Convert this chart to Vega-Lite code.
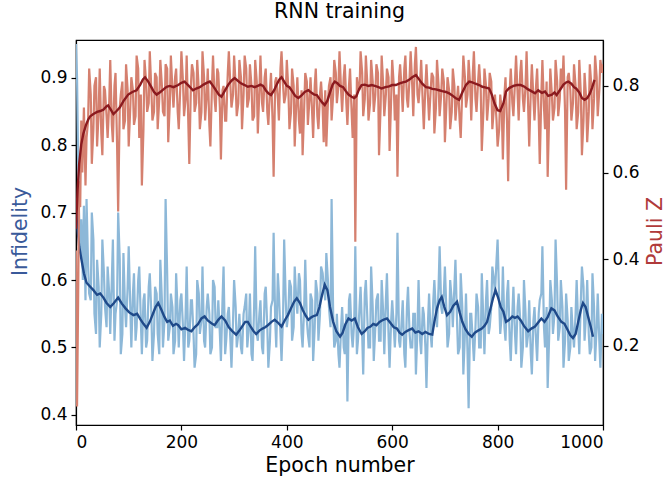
{
  "$schema": "https://vega.github.io/schema/vega-lite/v6.json",
  "width": 527,
  "height": 385,
  "autosize": {"type": "none"},
  "padding": {"left": 76, "top": 40, "right": 62, "bottom": 56},
  "background": "white",
  "title": {
    "text": "RNN training",
    "font": "DejaVu Sans",
    "fontSize": 20.5,
    "fontWeight": "normal",
    "color": "black",
    "anchor": "middle",
    "baseline": "alphabetic",
    "offset": 2
  },
  "config": {
    "view": {"stroke": "black", "strokeWidth": 1.2},
    "axis": {
      "grid": false,
      "domainColor": "black",
      "domainWidth": 1.2,
      "tickColor": "black",
      "tickWidth": 1.2,
      "tickSize": 5,
      "labelColor": "black",
      "labelFont": "DejaVu Sans",
      "labelFontSize": 17,
      "labelPadding": 4,
      "titleFont": "DejaVu Sans",
      "titleFontSize": 20.5,
      "titleFontWeight": "normal"
    }
  },
  "datasets": {
    "infidelity_raw": [
      {"epoch":0,"infidelity":0.95},{"epoch":2,"infidelity":0.90},{"epoch":5,"infidelity":0.72},{"epoch":8,"infidelity":0.64},{"epoch":10,"infidelity":0.69},{"epoch":13,"infidelity":0.60},{"epoch":15,"infidelity":0.71},{"epoch":18,"infidelity":0.57},{"epoch":20,"infidelity":0.72},{"epoch":25,"infidelity":0.58},{"epoch":30,"infidelity":0.70},{"epoch":35,"infidelity":0.55},{"epoch":40,"infidelity":0.63},{"epoch":45,"infidelity":0.50},{"epoch":50,"infidelity":0.66},{"epoch":55,"infidelity":0.56},{"epoch":60,"infidelity":0.62},{"epoch":65,"infidelity":0.52},{"epoch":70,"infidelity":0.66},{"epoch":75,"infidelity":0.55},{"epoch":80,"infidelity":0.70},{"epoch":85,"infidelity":0.49},{"epoch":90,"infidelity":0.64},{"epoch":95,"infidelity":0.53},{"epoch":100,"infidelity":0.65},{"epoch":105,"infidelity":0.50},{"epoch":110,"infidelity":0.61},{"epoch":115,"infidelity":0.53},{"epoch":120,"infidelity":0.62},{"epoch":125,"infidelity":0.49},{"epoch":130,"infidelity":0.58},{"epoch":135,"infidelity":0.51},{"epoch":140,"infidelity":0.61},{"epoch":145,"infidelity":0.48},{"epoch":150,"infidelity":0.59},{"epoch":155,"infidelity":0.52},{"epoch":160,"infidelity":0.63},{"epoch":165,"infidelity":0.50},{"epoch":170,"infidelity":0.72},{"epoch":175,"infidelity":0.51},{"epoch":180,"infidelity":0.58},{"epoch":185,"infidelity":0.49},{"epoch":190,"infidelity":0.61},{"epoch":195,"infidelity":0.50},{"epoch":200,"infidelity":0.58},{"epoch":205,"infidelity":0.48},{"epoch":210,"infidelity":0.62},{"epoch":215,"infidelity":0.51},{"epoch":220,"infidelity":0.57},{"epoch":225,"infidelity":0.47},{"epoch":230,"infidelity":0.60},{"epoch":235,"infidelity":0.52},{"epoch":240,"infidelity":0.62},{"epoch":245,"infidelity":0.50},{"epoch":250,"infidelity":0.58},{"epoch":255,"infidelity":0.49},{"epoch":260,"infidelity":0.60},{"epoch":265,"infidelity":0.53},{"epoch":270,"infidelity":0.57},{"epoch":275,"infidelity":0.48},{"epoch":280,"infidelity":0.62},{"epoch":285,"infidelity":0.51},{"epoch":290,"infidelity":0.56},{"epoch":295,"infidelity":0.47},{"epoch":300,"infidelity":0.60},{"epoch":305,"infidelity":0.50},{"epoch":310,"infidelity":0.55},{"epoch":315,"infidelity":0.49},{"epoch":320,"infidelity":0.56},{"epoch":325,"infidelity":0.50},{"epoch":330,"infidelity":0.58},{"epoch":335,"infidelity":0.48},{"epoch":340,"infidelity":0.65},{"epoch":345,"infidelity":0.51},{"epoch":350,"infidelity":0.57},{"epoch":355,"infidelity":0.49},{"epoch":360,"infidelity":0.59},{"epoch":365,"infidelity":0.47},{"epoch":370,"infidelity":0.56},{"epoch":375,"infidelity":0.67},{"epoch":380,"infidelity":0.50},{"epoch":385,"infidelity":0.58},{"epoch":390,"infidelity":0.48},{"epoch":395,"infidelity":0.66},{"epoch":400,"infidelity":0.53},{"epoch":405,"infidelity":0.60},{"epoch":410,"infidelity":0.51},{"epoch":415,"infidelity":0.62},{"epoch":420,"infidelity":0.55},{"epoch":425,"infidelity":0.60},{"epoch":430,"infidelity":0.50},{"epoch":435,"infidelity":0.63},{"epoch":440,"infidelity":0.52},{"epoch":445,"infidelity":0.58},{"epoch":450,"infidelity":0.48},{"epoch":455,"infidelity":0.60},{"epoch":460,"infidelity":0.51},{"epoch":465,"infidelity":0.62},{"epoch":470,"infidelity":0.59},{"epoch":475,"infidelity":0.64},{"epoch":480,"infidelity":0.56},{"epoch":485,"infidelity":0.72},{"epoch":490,"infidelity":0.50},{"epoch":495,"infidelity":0.55},{"epoch":500,"infidelity":0.47},{"epoch":505,"infidelity":0.56},{"epoch":510,"infidelity":0.49},{"epoch":515,"infidelity":0.42},{"epoch":520,"infidelity":0.58},{"epoch":525,"infidelity":0.50},{"epoch":530,"infidelity":0.65},{"epoch":535,"infidelity":0.51},{"epoch":540,"infidelity":0.59},{"epoch":545,"infidelity":0.46},{"epoch":550,"infidelity":0.60},{"epoch":555,"infidelity":0.50},{"epoch":560,"infidelity":0.62},{"epoch":565,"infidelity":0.48},{"epoch":570,"infidelity":0.57},{"epoch":575,"infidelity":0.51},{"epoch":580,"infidelity":0.60},{"epoch":585,"infidelity":0.49},{"epoch":590,"infidelity":0.61},{"epoch":595,"infidelity":0.47},{"epoch":600,"infidelity":0.57},{"epoch":605,"infidelity":0.50},{"epoch":610,"infidelity":0.67},{"epoch":615,"infidelity":0.50},{"epoch":620,"infidelity":0.57},{"epoch":625,"infidelity":0.47},{"epoch":630,"infidelity":0.59},{"epoch":635,"infidelity":0.50},{"epoch":640,"infidelity":0.55},{"epoch":645,"infidelity":0.46},{"epoch":650,"infidelity":0.60},{"epoch":655,"infidelity":0.49},{"epoch":660,"infidelity":0.55},{"epoch":665,"infidelity":0.44},{"epoch":670,"infidelity":0.58},{"epoch":675,"infidelity":0.50},{"epoch":680,"infidelity":0.60},{"epoch":685,"infidelity":0.53},{"epoch":690,"infidelity":0.65},{"epoch":695,"infidelity":0.55},{"epoch":700,"infidelity":0.62},{"epoch":705,"infidelity":0.50},{"epoch":710,"infidelity":0.60},{"epoch":715,"infidelity":0.53},{"epoch":720,"infidelity":0.63},{"epoch":725,"infidelity":0.49},{"epoch":730,"infidelity":0.61},{"epoch":735,"infidelity":0.46},{"epoch":740,"infidelity":0.58},{"epoch":745,"infidelity":0.41},{"epoch":750,"infidelity":0.55},{"epoch":755,"infidelity":0.48},{"epoch":760,"infidelity":0.58},{"epoch":765,"infidelity":0.50},{"epoch":770,"infidelity":0.61},{"epoch":775,"infidelity":0.49},{"epoch":780,"infidelity":0.60},{"epoch":785,"infidelity":0.53},{"epoch":790,"infidelity":0.62},{"epoch":795,"infidelity":0.58},{"epoch":800,"infidelity":0.66},{"epoch":805,"infidelity":0.52},{"epoch":810,"infidelity":0.62},{"epoch":815,"infidelity":0.51},{"epoch":820,"infidelity":0.60},{"epoch":825,"infidelity":0.48},{"epoch":830,"infidelity":0.59},{"epoch":835,"infidelity":0.49},{"epoch":840,"infidelity":0.58},{"epoch":845,"infidelity":0.47},{"epoch":850,"infidelity":0.60},{"epoch":855,"infidelity":0.50},{"epoch":860,"infidelity":0.57},{"epoch":865,"infidelity":0.46},{"epoch":870,"infidelity":0.56},{"epoch":875,"infidelity":0.48},{"epoch":880,"infidelity":0.57},{"epoch":885,"infidelity":0.65},{"epoch":890,"infidelity":0.50},{"epoch":895,"infidelity":0.44},{"epoch":900,"infidelity":0.60},{"epoch":905,"infidelity":0.52},{"epoch":910,"infidelity":0.66},{"epoch":915,"infidelity":0.51},{"epoch":920,"infidelity":0.60},{"epoch":925,"infidelity":0.47},{"epoch":930,"infidelity":0.58},{"epoch":935,"infidelity":0.48},{"epoch":940,"infidelity":0.56},{"epoch":945,"infidelity":0.50},{"epoch":950,"infidelity":0.60},{"epoch":955,"infidelity":0.49},{"epoch":960,"infidelity":0.62},{"epoch":965,"infidelity":0.51},{"epoch":970,"infidelity":0.60},{"epoch":975,"infidelity":0.49},{"epoch":980,"infidelity":0.61},{"epoch":985,"infidelity":0.48},{"epoch":990,"infidelity":0.58},{"epoch":995,"infidelity":0.47},{"epoch":1000,"infidelity":0.52},
      {"epoch":23,"infidelity":0.62},{"epoch":28,"infidelity":0.57},{"epoch":33,"infidelity":0.66},{"epoch":38,"infidelity":0.52},{"epoch":43,"infidelity":0.59},{"epoch":48,"infidelity":0.55},{"epoch":53,"infidelity":0.61},{"epoch":58,"infidelity":0.53},{"epoch":63,"infidelity":0.58},{"epoch":68,"infidelity":0.60},{"epoch":73,"infidelity":0.51},{"epoch":78,"infidelity":0.57},{"epoch":83,"infidelity":0.63},{"epoch":88,"infidelity":0.52},{"epoch":93,"infidelity":0.56},{"epoch":98,"infidelity":0.59},
      {"epoch":103,"infidelity":0.56},{"epoch":108,"infidelity":0.58},{"epoch":113,"infidelity":0.51},{"epoch":118,"infidelity":0.60},{"epoch":123,"infidelity":0.54},{"epoch":128,"infidelity":0.57},{"epoch":133,"infidelity":0.50},{"epoch":138,"infidelity":0.59},{"epoch":143,"infidelity":0.55},{"epoch":148,"infidelity":0.52},{"epoch":153,"infidelity":0.58},{"epoch":158,"infidelity":0.49},{"epoch":163,"infidelity":0.57},{"epoch":168,"infidelity":0.54},{"epoch":173,"infidelity":0.61},{"epoch":178,"infidelity":0.53},{"epoch":183,"infidelity":0.56},{"epoch":188,"infidelity":0.51},{"epoch":193,"infidelity":0.55},{"epoch":198,"infidelity":0.57},
      {"epoch":203,"infidelity":0.53},{"epoch":208,"infidelity":0.55},{"epoch":213,"infidelity":0.50},{"epoch":218,"infidelity":0.57},{"epoch":223,"infidelity":0.52},{"epoch":228,"infidelity":0.49},{"epoch":233,"infidelity":0.58},{"epoch":238,"infidelity":0.54},{"epoch":243,"infidelity":0.51},{"epoch":248,"infidelity":0.56},{"epoch":253,"infidelity":0.55},{"epoch":258,"infidelity":0.50},{"epoch":263,"infidelity":0.59},{"epoch":268,"infidelity":0.53},{"epoch":273,"infidelity":0.52},{"epoch":278,"infidelity":0.57},{"epoch":283,"infidelity":0.49},{"epoch":288,"infidelity":0.55},{"epoch":293,"infidelity":0.51},{"epoch":298,"infidelity":0.54},
      {"epoch":303,"infidelity":0.56},{"epoch":308,"infidelity":0.52},{"epoch":313,"infidelity":0.50},{"epoch":318,"infidelity":0.55},{"epoch":323,"infidelity":0.58},{"epoch":328,"infidelity":0.53},{"epoch":333,"infidelity":0.49},{"epoch":338,"infidelity":0.56},{"epoch":343,"infidelity":0.52},{"epoch":348,"infidelity":0.55},{"epoch":353,"infidelity":0.50},{"epoch":358,"infidelity":0.58},{"epoch":363,"infidelity":0.53},{"epoch":368,"infidelity":0.51},{"epoch":373,"infidelity":0.57},{"epoch":378,"infidelity":0.54},{"epoch":383,"infidelity":0.61},{"epoch":388,"infidelity":0.52},{"epoch":393,"infidelity":0.55},{"epoch":398,"infidelity":0.57},
      {"epoch":403,"infidelity":0.55},{"epoch":408,"infidelity":0.59},{"epoch":413,"infidelity":0.53},{"epoch":418,"infidelity":0.57},{"epoch":423,"infidelity":0.61},{"epoch":428,"infidelity":0.52},{"epoch":433,"infidelity":0.56},{"epoch":438,"infidelity":0.54},{"epoch":443,"infidelity":0.50},{"epoch":448,"infidelity":0.57},{"epoch":453,"infidelity":0.53},{"epoch":458,"infidelity":0.58},{"epoch":463,"infidelity":0.55},{"epoch":468,"infidelity":0.61},{"epoch":473,"infidelity":0.57},{"epoch":478,"infidelity":0.60},{"epoch":483,"infidelity":0.53},{"epoch":488,"infidelity":0.55},{"epoch":493,"infidelity":0.51},{"epoch":498,"infidelity":0.49},
      {"epoch":503,"infidelity":0.53},{"epoch":508,"infidelity":0.50},{"epoch":513,"infidelity":0.55},{"epoch":518,"infidelity":0.57},{"epoch":523,"infidelity":0.52},{"epoch":528,"infidelity":0.54},{"epoch":533,"infidelity":0.49},{"epoch":538,"infidelity":0.56},{"epoch":543,"infidelity":0.52},{"epoch":548,"infidelity":0.58},{"epoch":553,"infidelity":0.54},{"epoch":558,"infidelity":0.50},{"epoch":563,"infidelity":0.56},{"epoch":568,"infidelity":0.53},{"epoch":573,"infidelity":0.58},{"epoch":578,"infidelity":0.51},{"epoch":583,"infidelity":0.55},{"epoch":588,"infidelity":0.57},{"epoch":593,"infidelity":0.52},{"epoch":598,"infidelity":0.54},
      {"epoch":603,"infidelity":0.53},{"epoch":608,"infidelity":0.55},{"epoch":613,"infidelity":0.51},{"epoch":618,"infidelity":0.54},{"epoch":623,"infidelity":0.49},{"epoch":628,"infidelity":0.56},{"epoch":633,"infidelity":0.52},{"epoch":638,"infidelity":0.50},{"epoch":643,"infidelity":0.55},{"epoch":648,"infidelity":0.53},{"epoch":653,"infidelity":0.51},{"epoch":658,"infidelity":0.56},{"epoch":663,"infidelity":0.50},{"epoch":668,"infidelity":0.54},{"epoch":673,"infidelity":0.52},{"epoch":678,"infidelity":0.57},{"epoch":683,"infidelity":0.55},{"epoch":688,"infidelity":0.59},{"epoch":693,"infidelity":0.56},{"epoch":698,"infidelity":0.58},
      {"epoch":703,"infidelity":0.55},{"epoch":708,"infidelity":0.52},{"epoch":713,"infidelity":0.57},{"epoch":718,"infidelity":0.59},{"epoch":723,"infidelity":0.54},{"epoch":728,"infidelity":0.50},{"epoch":733,"infidelity":0.56},{"epoch":738,"infidelity":0.52},{"epoch":743,"infidelity":0.49},{"epoch":748,"infidelity":0.55},{"epoch":753,"infidelity":0.51},{"epoch":758,"infidelity":0.53},{"epoch":763,"infidelity":0.56},{"epoch":768,"infidelity":0.50},{"epoch":773,"infidelity":0.54},{"epoch":778,"infidelity":0.57},{"epoch":783,"infidelity":0.52},{"epoch":788,"infidelity":0.56},{"epoch":793,"infidelity":0.60},{"epoch":798,"infidelity":0.63},
      {"epoch":803,"infidelity":0.57},{"epoch":808,"infidelity":0.55},{"epoch":813,"infidelity":0.53},{"epoch":818,"infidelity":0.58},{"epoch":823,"infidelity":0.51},{"epoch":828,"infidelity":0.55},{"epoch":833,"infidelity":0.52},{"epoch":838,"infidelity":0.56},{"epoch":843,"infidelity":0.54},{"epoch":848,"infidelity":0.50},{"epoch":853,"infidelity":0.55},{"epoch":858,"infidelity":0.52},{"epoch":863,"infidelity":0.49},{"epoch":868,"infidelity":0.54},{"epoch":873,"infidelity":0.51},{"epoch":878,"infidelity":0.55},{"epoch":883,"infidelity":0.58},{"epoch":888,"infidelity":0.53},{"epoch":893,"infidelity":0.56},{"epoch":898,"infidelity":0.52},
      {"epoch":903,"infidelity":0.57},{"epoch":908,"infidelity":0.55},{"epoch":913,"infidelity":0.59},{"epoch":918,"infidelity":0.53},{"epoch":923,"infidelity":0.56},{"epoch":928,"infidelity":0.51},{"epoch":933,"infidelity":0.54},{"epoch":938,"infidelity":0.50},{"epoch":943,"infidelity":0.52},{"epoch":948,"infidelity":0.55},{"epoch":953,"infidelity":0.53},{"epoch":958,"infidelity":0.57},{"epoch":963,"infidelity":0.59},{"epoch":968,"infidelity":0.55},{"epoch":973,"infidelity":0.52},{"epoch":978,"infidelity":0.50},{"epoch":983,"infidelity":0.56},{"epoch":988,"infidelity":0.53},{"epoch":993,"infidelity":0.51},{"epoch":998,"infidelity":0.55}
    ],
    "infidelity_smooth": [
      {"epoch":0,"infidelity":0.70},{"epoch":3,"infidelity":0.675},{"epoch":6,"infidelity":0.65},{"epoch":10,"infidelity":0.632},{"epoch":15,"infidelity":0.61},{"epoch":20,"infidelity":0.596},{"epoch":27,"infidelity":0.59},{"epoch":33,"infidelity":0.585},{"epoch":40,"infidelity":0.578},{"epoch":46,"infidelity":0.58},{"epoch":52,"infidelity":0.574},{"epoch":58,"infidelity":0.566},{"epoch":65,"infidelity":0.56},{"epoch":72,"infidelity":0.566},{"epoch":80,"infidelity":0.574},{"epoch":87,"infidelity":0.565},{"epoch":94,"infidelity":0.558},{"epoch":101,"infidelity":0.552},{"epoch":109,"infidelity":0.548},{"epoch":116,"infidelity":0.55},{"epoch":122,"infidelity":0.542},{"epoch":128,"infidelity":0.535},{"epoch":134,"infidelity":0.529},{"epoch":140,"infidelity":0.538},{"epoch":146,"infidelity":0.55},{"epoch":151,"infidelity":0.56},{"epoch":156,"infidelity":0.566},{"epoch":162,"infidelity":0.556},{"epoch":168,"infidelity":0.545},{"epoch":173,"infidelity":0.538},{"epoch":178,"infidelity":0.54},{"epoch":184,"infidelity":0.532},{"epoch":190,"infidelity":0.535},{"epoch":194,"infidelity":0.533},{"epoch":200,"infidelity":0.527},{"epoch":207,"infidelity":0.529},{"epoch":213,"infidelity":0.526},{"epoch":219,"infidelity":0.524},{"epoch":225,"infidelity":0.53},{"epoch":231,"infidelity":0.534},{"epoch":238,"infidelity":0.543},{"epoch":244,"infidelity":0.546},{"epoch":250,"infidelity":0.54},{"epoch":257,"infidelity":0.536},{"epoch":263,"infidelity":0.533},{"epoch":270,"infidelity":0.541},{"epoch":276,"infidelity":0.546},{"epoch":283,"infidelity":0.54},{"epoch":290,"infidelity":0.53},{"epoch":297,"infidelity":0.524},{"epoch":304,"infidelity":0.519},{"epoch":310,"infidelity":0.525},{"epoch":316,"infidelity":0.532},{"epoch":321,"infidelity":0.538},{"epoch":326,"infidelity":0.538},{"epoch":332,"infidelity":0.53},{"epoch":337,"infidelity":0.524},{"epoch":342,"infidelity":0.52},{"epoch":348,"infidelity":0.525},{"epoch":354,"infidelity":0.528},{"epoch":359,"infidelity":0.53},{"epoch":364,"infidelity":0.533},{"epoch":371,"infidelity":0.538},{"epoch":377,"infidelity":0.541},{"epoch":383,"infidelity":0.537},{"epoch":390,"infidelity":0.531},{"epoch":396,"infidelity":0.54},{"epoch":402,"infidelity":0.548},{"epoch":408,"infidelity":0.558},{"epoch":414,"infidelity":0.568},{"epoch":419,"infidelity":0.573},{"epoch":425,"infidelity":0.566},{"epoch":430,"infidelity":0.556},{"epoch":436,"infidelity":0.547},{"epoch":441,"infidelity":0.541},{"epoch":447,"infidelity":0.545},{"epoch":452,"infidelity":0.547},{"epoch":457,"infidelity":0.548},{"epoch":462,"infidelity":0.56},{"epoch":467,"infidelity":0.578},{"epoch":472,"infidelity":0.593},{"epoch":477,"infidelity":0.585},{"epoch":482,"infidelity":0.56},{"epoch":488,"infidelity":0.538},{"epoch":494,"infidelity":0.524},{"epoch":501,"infidelity":0.516},{"epoch":506,"infidelity":0.522},{"epoch":511,"infidelity":0.534},{"epoch":517,"infidelity":0.543},{"epoch":523,"infidelity":0.54},{"epoch":529,"infidelity":0.543},{"epoch":535,"infidelity":0.53},{"epoch":542,"infidelity":0.52},{"epoch":548,"infidelity":0.524},{"epoch":553,"infidelity":0.529},{"epoch":559,"infidelity":0.531},{"epoch":564,"infidelity":0.535},{"epoch":570,"infidelity":0.533},{"epoch":576,"infidelity":0.538},{"epoch":583,"infidelity":0.541},{"epoch":590,"infidelity":0.543},{"epoch":596,"infidelity":0.537},{"epoch":603,"infidelity":0.53},{"epoch":609,"infidelity":0.528},{"epoch":614,"infidelity":0.522},{"epoch":619,"infidelity":0.519},{"epoch":625,"infidelity":0.523},{"epoch":632,"infidelity":0.526},{"epoch":638,"infidelity":0.528},{"epoch":644,"infidelity":0.522},{"epoch":650,"infidelity":0.524},{"epoch":657,"infidelity":0.52},{"epoch":663,"infidelity":0.523},{"epoch":670,"infidelity":0.52},{"epoch":676,"infidelity":0.519},{"epoch":680,"infidelity":0.538},{"epoch":685,"infidelity":0.558},{"epoch":690,"infidelity":0.57},{"epoch":694,"infidelity":0.575},{"epoch":699,"infidelity":0.56},{"epoch":704,"infidelity":0.548},{"epoch":710,"infidelity":0.553},{"epoch":716,"infidelity":0.562},{"epoch":723,"infidelity":0.568},{"epoch":728,"infidelity":0.552},{"epoch":733,"infidelity":0.538},{"epoch":739,"infidelity":0.527},{"epoch":745,"infidelity":0.52},{"epoch":751,"infidelity":0.516},{"epoch":757,"infidelity":0.522},{"epoch":763,"infidelity":0.525},{"epoch":770,"infidelity":0.528},{"epoch":775,"infidelity":0.532},{"epoch":780,"infidelity":0.538},{"epoch":786,"infidelity":0.556},{"epoch":791,"infidelity":0.572},{"epoch":796,"infidelity":0.585},{"epoch":801,"infidelity":0.574},{"epoch":806,"infidelity":0.56},{"epoch":811,"infidelity":0.553},{"epoch":816,"infidelity":0.538},{"epoch":822,"infidelity":0.541},{"epoch":828,"infidelity":0.546},{"epoch":833,"infidelity":0.544},{"epoch":838,"infidelity":0.546},{"epoch":844,"infidelity":0.54},{"epoch":850,"infidelity":0.532},{"epoch":858,"infidelity":0.524},{"epoch":864,"infidelity":0.528},{"epoch":871,"infidelity":0.531},{"epoch":877,"infidelity":0.537},{"epoch":883,"infidelity":0.543},{"epoch":889,"infidelity":0.538},{"epoch":895,"infidelity":0.545},{"epoch":902,"infidelity":0.558},{"epoch":908,"infidelity":0.555},{"epoch":914,"infidelity":0.546},{"epoch":921,"infidelity":0.538},{"epoch":927,"infidelity":0.535},{"epoch":933,"infidelity":0.526},{"epoch":938,"infidelity":0.518},{"epoch":943,"infidelity":0.514},{"epoch":948,"infidelity":0.52},{"epoch":953,"infidelity":0.538},{"epoch":958,"infidelity":0.556},{"epoch":962,"infidelity":0.566},{"epoch":967,"infidelity":0.56},{"epoch":972,"infidelity":0.545},{"epoch":977,"infidelity":0.53},{"epoch":981,"infidelity":0.516}
    ],
    "pauli_raw": [
      {"epoch":0,"pauli_z":0.42},{"epoch":2,"pauli_z":0.06},{"epoch":4,"pauli_z":0.30},{"epoch":6,"pauli_z":0.58},{"epoch":8,"pauli_z":0.52},{"epoch":10,"pauli_z":0.72},{"epoch":12,"pauli_z":0.60},{"epoch":15,"pauli_z":0.75},{"epoch":18,"pauli_z":0.57},{"epoch":20,"pauli_z":0.68},{"epoch":25,"pauli_z":0.84},{"epoch":30,"pauli_z":0.62},{"epoch":35,"pauli_z":0.80},{"epoch":40,"pauli_z":0.66},{"epoch":45,"pauli_z":0.84},{"epoch":50,"pauli_z":0.64},{"epoch":55,"pauli_z":0.79},{"epoch":60,"pauli_z":0.68},{"epoch":65,"pauli_z":0.86},{"epoch":70,"pauli_z":0.67},{"epoch":75,"pauli_z":0.83},{"epoch":80,"pauli_z":0.51},{"epoch":85,"pauli_z":0.78},{"epoch":90,"pauli_z":0.70},{"epoch":95,"pauli_z":0.85},{"epoch":100,"pauli_z":0.66},{"epoch":105,"pauli_z":0.82},{"epoch":110,"pauli_z":0.71},{"epoch":115,"pauli_z":0.87},{"epoch":120,"pauli_z":0.68},{"epoch":125,"pauli_z":0.57},{"epoch":130,"pauli_z":0.86},{"epoch":135,"pauli_z":0.74},{"epoch":140,"pauli_z":0.88},{"epoch":145,"pauli_z":0.72},{"epoch":150,"pauli_z":0.83},{"epoch":155,"pauli_z":0.70},{"epoch":160,"pauli_z":0.86},{"epoch":165,"pauli_z":0.74},{"epoch":170,"pauli_z":0.85},{"epoch":175,"pauli_z":0.67},{"epoch":180,"pauli_z":0.87},{"epoch":185,"pauli_z":0.75},{"epoch":190,"pauli_z":0.84},{"epoch":195,"pauli_z":0.70},{"epoch":200,"pauli_z":0.88},{"epoch":205,"pauli_z":0.73},{"epoch":210,"pauli_z":0.87},{"epoch":215,"pauli_z":0.62},{"epoch":220,"pauli_z":0.85},{"epoch":225,"pauli_z":0.74},{"epoch":230,"pauli_z":0.86},{"epoch":235,"pauli_z":0.70},{"epoch":240,"pauli_z":0.88},{"epoch":245,"pauli_z":0.72},{"epoch":250,"pauli_z":0.84},{"epoch":255,"pauli_z":0.66},{"epoch":260,"pauli_z":0.87},{"epoch":265,"pauli_z":0.74},{"epoch":270,"pauli_z":0.83},{"epoch":275,"pauli_z":0.63},{"epoch":280,"pauli_z":0.80},{"epoch":285,"pauli_z":0.72},{"epoch":290,"pauli_z":0.88},{"epoch":295,"pauli_z":0.75},{"epoch":300,"pauli_z":0.87},{"epoch":305,"pauli_z":0.73},{"epoch":310,"pauli_z":0.86},{"epoch":315,"pauli_z":0.70},{"epoch":320,"pauli_z":0.87},{"epoch":325,"pauli_z":0.75},{"epoch":330,"pauli_z":0.85},{"epoch":335,"pauli_z":0.72},{"epoch":340,"pauli_z":0.86},{"epoch":345,"pauli_z":0.69},{"epoch":350,"pauli_z":0.87},{"epoch":355,"pauli_z":0.74},{"epoch":360,"pauli_z":0.84},{"epoch":365,"pauli_z":0.71},{"epoch":370,"pauli_z":0.83},{"epoch":375,"pauli_z":0.59},{"epoch":380,"pauli_z":0.82},{"epoch":385,"pauli_z":0.72},{"epoch":390,"pauli_z":0.88},{"epoch":395,"pauli_z":0.76},{"epoch":400,"pauli_z":0.86},{"epoch":405,"pauli_z":0.70},{"epoch":410,"pauli_z":0.84},{"epoch":415,"pauli_z":0.66},{"epoch":420,"pauli_z":0.82},{"epoch":425,"pauli_z":0.69},{"epoch":430,"pauli_z":0.64},{"epoch":435,"pauli_z":0.83},{"epoch":440,"pauli_z":0.71},{"epoch":445,"pauli_z":0.82},{"epoch":450,"pauli_z":0.68},{"epoch":455,"pauli_z":0.84},{"epoch":460,"pauli_z":0.70},{"epoch":465,"pauli_z":0.81},{"epoch":470,"pauli_z":0.67},{"epoch":475,"pauli_z":0.66},{"epoch":480,"pauli_z":0.80},{"epoch":485,"pauli_z":0.72},{"epoch":490,"pauli_z":0.86},{"epoch":495,"pauli_z":0.76},{"epoch":500,"pauli_z":0.88},{"epoch":505,"pauli_z":0.74},{"epoch":510,"pauli_z":0.85},{"epoch":515,"pauli_z":0.71},{"epoch":520,"pauli_z":0.84},{"epoch":525,"pauli_z":0.68},{"epoch":530,"pauli_z":0.44},{"epoch":535,"pauli_z":0.80},{"epoch":540,"pauli_z":0.88},{"epoch":545,"pauli_z":0.73},{"epoch":550,"pauli_z":0.87},{"epoch":555,"pauli_z":0.72},{"epoch":560,"pauli_z":0.86},{"epoch":565,"pauli_z":0.74},{"epoch":570,"pauli_z":0.85},{"epoch":575,"pauli_z":0.64},{"epoch":580,"pauli_z":0.87},{"epoch":585,"pauli_z":0.73},{"epoch":590,"pauli_z":0.84},{"epoch":595,"pauli_z":0.65},{"epoch":600,"pauli_z":0.86},{"epoch":605,"pauli_z":0.72},{"epoch":610,"pauli_z":0.59},{"epoch":615,"pauli_z":0.85},{"epoch":620,"pauli_z":0.74},{"epoch":625,"pauli_z":0.87},{"epoch":630,"pauli_z":0.75},{"epoch":635,"pauli_z":0.88},{"epoch":640,"pauli_z":0.73},{"epoch":645,"pauli_z":0.89},{"epoch":650,"pauli_z":0.76},{"epoch":655,"pauli_z":0.86},{"epoch":660,"pauli_z":0.70},{"epoch":665,"pauli_z":0.85},{"epoch":670,"pauli_z":0.72},{"epoch":675,"pauli_z":0.83},{"epoch":680,"pauli_z":0.69},{"epoch":685,"pauli_z":0.86},{"epoch":690,"pauli_z":0.73},{"epoch":695,"pauli_z":0.84},{"epoch":700,"pauli_z":0.67},{"epoch":705,"pauli_z":0.82},{"epoch":710,"pauli_z":0.70},{"epoch":715,"pauli_z":0.84},{"epoch":720,"pauli_z":0.72},{"epoch":725,"pauli_z":0.80},{"epoch":730,"pauli_z":0.68},{"epoch":735,"pauli_z":0.87},{"epoch":740,"pauli_z":0.75},{"epoch":745,"pauli_z":0.86},{"epoch":750,"pauli_z":0.72},{"epoch":755,"pauli_z":0.88},{"epoch":760,"pauli_z":0.74},{"epoch":765,"pauli_z":0.85},{"epoch":770,"pauli_z":0.65},{"epoch":775,"pauli_z":0.84},{"epoch":780,"pauli_z":0.72},{"epoch":785,"pauli_z":0.83},{"epoch":790,"pauli_z":0.70},{"epoch":795,"pauli_z":0.78},{"epoch":800,"pauli_z":0.66},{"epoch":805,"pauli_z":0.78},{"epoch":810,"pauli_z":0.63},{"epoch":815,"pauli_z":0.82},{"epoch":820,"pauli_z":0.58},{"epoch":825,"pauli_z":0.84},{"epoch":830,"pauli_z":0.73},{"epoch":835,"pauli_z":0.87},{"epoch":840,"pauli_z":0.72},{"epoch":845,"pauli_z":0.86},{"epoch":850,"pauli_z":0.74},{"epoch":855,"pauli_z":0.88},{"epoch":860,"pauli_z":0.66},{"epoch":865,"pauli_z":0.85},{"epoch":870,"pauli_z":0.72},{"epoch":875,"pauli_z":0.84},{"epoch":880,"pauli_z":0.62},{"epoch":885,"pauli_z":0.86},{"epoch":890,"pauli_z":0.70},{"epoch":895,"pauli_z":0.59},{"epoch":900,"pauli_z":0.84},{"epoch":905,"pauli_z":0.72},{"epoch":910,"pauli_z":0.86},{"epoch":915,"pauli_z":0.73},{"epoch":920,"pauli_z":0.84},{"epoch":925,"pauli_z":0.87},{"epoch":930,"pauli_z":0.56},{"epoch":935,"pauli_z":0.83},{"epoch":940,"pauli_z":0.72},{"epoch":945,"pauli_z":0.85},{"epoch":950,"pauli_z":0.70},{"epoch":955,"pauli_z":0.86},{"epoch":960,"pauli_z":0.64},{"epoch":965,"pauli_z":0.83},{"epoch":970,"pauli_z":0.67},{"epoch":975,"pauli_z":0.85},{"epoch":980,"pauli_z":0.70},{"epoch":985,"pauli_z":0.87},{"epoch":990,"pauli_z":0.73},{"epoch":995,"pauli_z":0.86},{"epoch":1000,"pauli_z":0.85},
      {"epoch":23,"pauli_z":0.72},{"epoch":28,"pauli_z":0.78},{"epoch":33,"pauli_z":0.70},{"epoch":38,"pauli_z":0.82},{"epoch":43,"pauli_z":0.74},{"epoch":48,"pauli_z":0.69},{"epoch":53,"pauli_z":0.80},{"epoch":58,"pauli_z":0.73},{"epoch":63,"pauli_z":0.76},{"epoch":68,"pauli_z":0.71},{"epoch":73,"pauli_z":0.80},{"epoch":78,"pauli_z":0.66},{"epoch":83,"pauli_z":0.75},{"epoch":88,"pauli_z":0.81},{"epoch":93,"pauli_z":0.72},{"epoch":98,"pauli_z":0.79},
      {"epoch":103,"pauli_z":0.75},{"epoch":108,"pauli_z":0.79},{"epoch":113,"pauli_z":0.73},{"epoch":118,"pauli_z":0.84},{"epoch":123,"pauli_z":0.78},{"epoch":128,"pauli_z":0.70},{"epoch":133,"pauli_z":0.81},{"epoch":138,"pauli_z":0.76},{"epoch":143,"pauli_z":0.79},{"epoch":148,"pauli_z":0.74},{"epoch":153,"pauli_z":0.82},{"epoch":158,"pauli_z":0.77},{"epoch":163,"pauli_z":0.80},{"epoch":168,"pauli_z":0.73},{"epoch":173,"pauli_z":0.84},{"epoch":178,"pauli_z":0.76},{"epoch":183,"pauli_z":0.79},{"epoch":188,"pauli_z":0.82},{"epoch":193,"pauli_z":0.74},{"epoch":198,"pauli_z":0.80},
      {"epoch":203,"pauli_z":0.81},{"epoch":208,"pauli_z":0.77},{"epoch":213,"pauli_z":0.72},{"epoch":218,"pauli_z":0.80},{"epoch":223,"pauli_z":0.83},{"epoch":228,"pauli_z":0.76},{"epoch":233,"pauli_z":0.79},{"epoch":238,"pauli_z":0.74},{"epoch":243,"pauli_z":0.82},{"epoch":248,"pauli_z":0.78},{"epoch":253,"pauli_z":0.71},{"epoch":258,"pauli_z":0.80},{"epoch":263,"pauli_z":0.77},{"epoch":268,"pauli_z":0.84},{"epoch":273,"pauli_z":0.75},{"epoch":278,"pauli_z":0.79},{"epoch":283,"pauli_z":0.72},{"epoch":288,"pauli_z":0.83},{"epoch":293,"pauli_z":0.80},{"epoch":298,"pauli_z":0.78},
      {"epoch":303,"pauli_z":0.80},{"epoch":308,"pauli_z":0.76},{"epoch":313,"pauli_z":0.82},{"epoch":318,"pauli_z":0.78},{"epoch":323,"pauli_z":0.84},{"epoch":328,"pauli_z":0.77},{"epoch":333,"pauli_z":0.80},{"epoch":338,"pauli_z":0.73},{"epoch":343,"pauli_z":0.81},{"epoch":348,"pauli_z":0.79},{"epoch":353,"pauli_z":0.76},{"epoch":358,"pauli_z":0.82},{"epoch":363,"pauli_z":0.74},{"epoch":368,"pauli_z":0.79},{"epoch":373,"pauli_z":0.72},{"epoch":378,"pauli_z":0.81},{"epoch":383,"pauli_z":0.77},{"epoch":388,"pauli_z":0.84},{"epoch":393,"pauli_z":0.80},{"epoch":398,"pauli_z":0.78},
      {"epoch":403,"pauli_z":0.79},{"epoch":408,"pauli_z":0.74},{"epoch":413,"pauli_z":0.80},{"epoch":418,"pauli_z":0.76},{"epoch":423,"pauli_z":0.72},{"epoch":428,"pauli_z":0.79},{"epoch":433,"pauli_z":0.75},{"epoch":438,"pauli_z":0.81},{"epoch":443,"pauli_z":0.77},{"epoch":448,"pauli_z":0.74},{"epoch":453,"pauli_z":0.80},{"epoch":458,"pauli_z":0.73},{"epoch":463,"pauli_z":0.78},{"epoch":468,"pauli_z":0.75},{"epoch":473,"pauli_z":0.79},{"epoch":478,"pauli_z":0.76},{"epoch":483,"pauli_z":0.82},{"epoch":488,"pauli_z":0.78},{"epoch":493,"pauli_z":0.83},{"epoch":498,"pauli_z":0.80},
      {"epoch":503,"pauli_z":0.79},{"epoch":508,"pauli_z":0.82},{"epoch":513,"pauli_z":0.76},{"epoch":518,"pauli_z":0.80},{"epoch":523,"pauli_z":0.74},{"epoch":528,"pauli_z":0.78},{"epoch":533,"pauli_z":0.82},{"epoch":538,"pauli_z":0.79},{"epoch":543,"pauli_z":0.83},{"epoch":548,"pauli_z":0.77},{"epoch":553,"pauli_z":0.80},{"epoch":558,"pauli_z":0.76},{"epoch":563,"pauli_z":0.81},{"epoch":568,"pauli_z":0.78},{"epoch":573,"pauli_z":0.83},{"epoch":578,"pauli_z":0.75},{"epoch":583,"pauli_z":0.80},{"epoch":588,"pauli_z":0.78},{"epoch":593,"pauli_z":0.82},{"epoch":598,"pauli_z":0.77},
      {"epoch":603,"pauli_z":0.80},{"epoch":608,"pauli_z":0.78},{"epoch":613,"pauli_z":0.82},{"epoch":618,"pauli_z":0.79},{"epoch":623,"pauli_z":0.84},{"epoch":628,"pauli_z":0.77},{"epoch":633,"pauli_z":0.82},{"epoch":638,"pauli_z":0.80},{"epoch":643,"pauli_z":0.85},{"epoch":648,"pauli_z":0.78},{"epoch":653,"pauli_z":0.81},{"epoch":658,"pauli_z":0.76},{"epoch":663,"pauli_z":0.80},{"epoch":668,"pauli_z":0.77},{"epoch":673,"pauli_z":0.79},{"epoch":678,"pauli_z":0.82},{"epoch":683,"pauli_z":0.75},{"epoch":688,"pauli_z":0.80},{"epoch":693,"pauli_z":0.78},{"epoch":698,"pauli_z":0.81},
      {"epoch":703,"pauli_z":0.76},{"epoch":708,"pauli_z":0.79},{"epoch":713,"pauli_z":0.74},{"epoch":718,"pauli_z":0.80},{"epoch":723,"pauli_z":0.77},{"epoch":728,"pauli_z":0.72},{"epoch":733,"pauli_z":0.79},{"epoch":738,"pauli_z":0.82},{"epoch":743,"pauli_z":0.78},{"epoch":748,"pauli_z":0.80},{"epoch":753,"pauli_z":0.83},{"epoch":758,"pauli_z":0.77},{"epoch":763,"pauli_z":0.81},{"epoch":768,"pauli_z":0.79},{"epoch":773,"pauli_z":0.74},{"epoch":778,"pauli_z":0.80},{"epoch":783,"pauli_z":0.77},{"epoch":788,"pauli_z":0.81},{"epoch":793,"pauli_z":0.75},{"epoch":798,"pauli_z":0.72},
      {"epoch":803,"pauli_z":0.70},{"epoch":808,"pauli_z":0.74},{"epoch":813,"pauli_z":0.78},{"epoch":818,"pauli_z":0.71},{"epoch":823,"pauli_z":0.79},{"epoch":828,"pauli_z":0.76},{"epoch":833,"pauli_z":0.81},{"epoch":838,"pauli_z":0.78},{"epoch":843,"pauli_z":0.83},{"epoch":848,"pauli_z":0.77},{"epoch":853,"pauli_z":0.80},{"epoch":858,"pauli_z":0.75},{"epoch":863,"pauli_z":0.79},{"epoch":868,"pauli_z":0.77},{"epoch":873,"pauli_z":0.80},{"epoch":878,"pauli_z":0.73},{"epoch":883,"pauli_z":0.78},{"epoch":888,"pauli_z":0.75},{"epoch":893,"pauli_z":0.81},{"epoch":898,"pauli_z":0.74},
      {"epoch":903,"pauli_z":0.78},{"epoch":908,"pauli_z":0.75},{"epoch":913,"pauli_z":0.81},{"epoch":918,"pauli_z":0.77},{"epoch":923,"pauli_z":0.80},{"epoch":928,"pauli_z":0.74},{"epoch":933,"pauli_z":0.82},{"epoch":938,"pauli_z":0.79},{"epoch":943,"pauli_z":0.76},{"epoch":948,"pauli_z":0.80},{"epoch":953,"pauli_z":0.74},{"epoch":958,"pauli_z":0.78},{"epoch":963,"pauli_z":0.72},{"epoch":968,"pauli_z":0.77},{"epoch":973,"pauli_z":0.74},{"epoch":978,"pauli_z":0.80},{"epoch":983,"pauli_z":0.77},{"epoch":988,"pauli_z":0.82},{"epoch":993,"pauli_z":0.79},{"epoch":998,"pauli_z":0.83}
    ],
    "pauli_smooth": [
      {"epoch":0,"pauli_z":0.47},{"epoch":3,"pauli_z":0.56},{"epoch":6,"pauli_z":0.62},{"epoch":10,"pauli_z":0.665},{"epoch":14,"pauli_z":0.69},{"epoch":19,"pauli_z":0.71},{"epoch":23,"pauli_z":0.722},{"epoch":27,"pauli_z":0.73},{"epoch":33,"pauli_z":0.735},{"epoch":40,"pauli_z":0.74},{"epoch":46,"pauli_z":0.742},{"epoch":52,"pauli_z":0.745},{"epoch":57,"pauli_z":0.752},{"epoch":61,"pauli_z":0.755},{"epoch":66,"pauli_z":0.745},{"epoch":71,"pauli_z":0.735},{"epoch":77,"pauli_z":0.742},{"epoch":83,"pauli_z":0.75},{"epoch":90,"pauli_z":0.765},{"epoch":99,"pauli_z":0.78},{"epoch":107,"pauli_z":0.786},{"epoch":115,"pauli_z":0.79},{"epoch":122,"pauli_z":0.803},{"epoch":127,"pauli_z":0.815},{"epoch":131,"pauli_z":0.82},{"epoch":137,"pauli_z":0.81},{"epoch":143,"pauli_z":0.797},{"epoch":148,"pauli_z":0.786},{"epoch":153,"pauli_z":0.78},{"epoch":160,"pauli_z":0.786},{"epoch":166,"pauli_z":0.792},{"epoch":172,"pauli_z":0.798},{"epoch":178,"pauli_z":0.8},{"epoch":185,"pauli_z":0.797},{"epoch":194,"pauli_z":0.802},{"epoch":200,"pauli_z":0.807},{"epoch":206,"pauli_z":0.81},{"epoch":214,"pauli_z":0.8},{"epoch":222,"pauli_z":0.79},{"epoch":228,"pauli_z":0.794},{"epoch":235,"pauli_z":0.797},{"epoch":242,"pauli_z":0.803},{"epoch":248,"pauli_z":0.807},{"epoch":254,"pauli_z":0.81},{"epoch":260,"pauli_z":0.8},{"epoch":266,"pauli_z":0.789},{"epoch":271,"pauli_z":0.78},{"epoch":276,"pauli_z":0.775},{"epoch":282,"pauli_z":0.788},{"epoch":289,"pauli_z":0.803},{"epoch":295,"pauli_z":0.812},{"epoch":301,"pauli_z":0.818},{"epoch":307,"pauli_z":0.812},{"epoch":313,"pauli_z":0.806},{"epoch":320,"pauli_z":0.802},{"epoch":326,"pauli_z":0.798},{"epoch":333,"pauli_z":0.8},{"epoch":339,"pauli_z":0.797},{"epoch":345,"pauli_z":0.8},{"epoch":350,"pauli_z":0.803},{"epoch":355,"pauli_z":0.8},{"epoch":360,"pauli_z":0.79},{"epoch":365,"pauli_z":0.783},{"epoch":370,"pauli_z":0.779},{"epoch":376,"pauli_z":0.79},{"epoch":382,"pauli_z":0.806},{"epoch":386,"pauli_z":0.815},{"epoch":390,"pauli_z":0.82},{"epoch":395,"pauli_z":0.81},{"epoch":400,"pauli_z":0.8},{"epoch":405,"pauli_z":0.797},{"epoch":410,"pauli_z":0.788},{"epoch":416,"pauli_z":0.777},{"epoch":422,"pauli_z":0.772},{"epoch":428,"pauli_z":0.778},{"epoch":434,"pauli_z":0.786},{"epoch":441,"pauli_z":0.79},{"epoch":447,"pauli_z":0.784},{"epoch":452,"pauli_z":0.78},{"epoch":457,"pauli_z":0.779},{"epoch":462,"pauli_z":0.77},{"epoch":467,"pauli_z":0.762},{"epoch":472,"pauli_z":0.756},{"epoch":477,"pauli_z":0.766},{"epoch":482,"pauli_z":0.785},{"epoch":487,"pauli_z":0.803},{"epoch":491,"pauli_z":0.81},{"epoch":496,"pauli_z":0.806},{"epoch":501,"pauli_z":0.8},{"epoch":507,"pauli_z":0.797},{"epoch":512,"pauli_z":0.788},{"epoch":517,"pauli_z":0.78},{"epoch":523,"pauli_z":0.775},{"epoch":528,"pauli_z":0.772},{"epoch":532,"pauli_z":0.776},{"epoch":537,"pauli_z":0.792},{"epoch":542,"pauli_z":0.802},{"epoch":548,"pauli_z":0.803},{"epoch":555,"pauli_z":0.8},{"epoch":561,"pauli_z":0.802},{"epoch":567,"pauli_z":0.8},{"epoch":574,"pauli_z":0.797},{"epoch":580,"pauli_z":0.794},{"epoch":587,"pauli_z":0.797},{"epoch":594,"pauli_z":0.799},{"epoch":600,"pauli_z":0.802},{"epoch":607,"pauli_z":0.802},{"epoch":613,"pauli_z":0.805},{"epoch":620,"pauli_z":0.808},{"epoch":626,"pauli_z":0.81},{"epoch":632,"pauli_z":0.814},{"epoch":638,"pauli_z":0.82},{"epoch":645,"pauli_z":0.825},{"epoch":651,"pauli_z":0.815},{"epoch":657,"pauli_z":0.805},{"epoch":664,"pauli_z":0.797},{"epoch":670,"pauli_z":0.796},{"epoch":676,"pauli_z":0.793},{"epoch":683,"pauli_z":0.792},{"epoch":689,"pauli_z":0.79},{"epoch":695,"pauli_z":0.788},{"epoch":702,"pauli_z":0.786},{"epoch":708,"pauli_z":0.783},{"epoch":714,"pauli_z":0.778},{"epoch":720,"pauli_z":0.772},{"epoch":727,"pauli_z":0.768},{"epoch":733,"pauli_z":0.785},{"epoch":740,"pauli_z":0.802},{"epoch":746,"pauli_z":0.81},{"epoch":752,"pauli_z":0.808},{"epoch":758,"pauli_z":0.805},{"epoch":765,"pauli_z":0.802},{"epoch":771,"pauli_z":0.798},{"epoch":778,"pauli_z":0.796},{"epoch":784,"pauli_z":0.794},{"epoch":789,"pauli_z":0.78},{"epoch":794,"pauli_z":0.76},{"epoch":800,"pauli_z":0.744},{"epoch":805,"pauli_z":0.742},{"epoch":811,"pauli_z":0.76},{"epoch":816,"pauli_z":0.787},{"epoch":822,"pauli_z":0.795},{"epoch":830,"pauli_z":0.8},{"epoch":837,"pauli_z":0.802},{"epoch":844,"pauli_z":0.802},{"epoch":851,"pauli_z":0.798},{"epoch":858,"pauli_z":0.792},{"epoch":864,"pauli_z":0.788},{"epoch":871,"pauli_z":0.783},{"epoch":877,"pauli_z":0.79},{"epoch":884,"pauli_z":0.784},{"epoch":890,"pauli_z":0.787},{"epoch":896,"pauli_z":0.777},{"epoch":903,"pauli_z":0.78},{"epoch":908,"pauli_z":0.785},{"epoch":912,"pauli_z":0.779},{"epoch":918,"pauli_z":0.79},{"epoch":925,"pauli_z":0.803},{"epoch":930,"pauli_z":0.808},{"epoch":934,"pauli_z":0.81},{"epoch":940,"pauli_z":0.805},{"epoch":945,"pauli_z":0.797},{"epoch":949,"pauli_z":0.794},{"epoch":955,"pauli_z":0.785},{"epoch":960,"pauli_z":0.772},{"epoch":965,"pauli_z":0.768},{"epoch":970,"pauli_z":0.772},{"epoch":975,"pauli_z":0.782},{"epoch":979,"pauli_z":0.795},{"epoch":984,"pauli_z":0.814}
    ]
  },
  "layer": [
    {
      "layer": [
        {
          "data": {"name": "infidelity_raw"},
          "mark": {"type": "line", "color": "#8db8d8", "strokeWidth": 2.2, "clip": true},
          "encoding": {
            "x": {
              "field": "epoch", "type": "quantitative",
              "scale": {"domain": [0, 1000], "nice": false},
              "axis": {"values": [0, 200, 400, 600, 800, 1000], "format": "d", "title": "Epoch number", "titleBaseline": "alphabetic", "titleY": 46}
            },
            "y": {
              "field": "infidelity", "type": "quantitative",
              "scale": {"domain": [0.385, 0.956], "nice": false, "zero": false},
              "axis": {
                "values": [0.4, 0.5, 0.6, 0.7, 0.8, 0.9], "format": ".1f",
                "title": "Infidelity", "titleColor": "#3a5a9a",
                "titleAngle": 270, "titleAlign": "center", "titleBaseline": "alphabetic",
                "titleX": -50, "titleY": 191
              }
            }
          }
        },
        {
          "data": {"name": "infidelity_smooth"},
          "mark": {"type": "line", "color": "#1f4a8a", "strokeWidth": 2.4, "clip": true},
          "encoding": {
            "x": {"field": "epoch", "type": "quantitative"},
            "y": {"field": "infidelity", "type": "quantitative"}
          }
        }
      ]
    },
    {
      "layer": [
        {
          "data": {"name": "pauli_raw"},
          "mark": {"type": "line", "color": "#d5806f", "strokeWidth": 2.2, "clip": true},
          "encoding": {
            "x": {"field": "epoch", "type": "quantitative"},
            "y": {
              "field": "pauli_z", "type": "quantitative",
              "scale": {"domain": [0.017, 0.906], "nice": false, "zero": false},
              "axis": {
                "orient": "right", "values": [0.2, 0.4, 0.6, 0.8], "format": ".1f",
                "title": "Pauli Z", "titleColor": "#b03a3a",
                "titleAngle": 270, "titleAlign": "center", "titleBaseline": "alphabetic",
                "titleX": 58, "titleY": 191
              }
            }
          }
        },
        {
          "data": {"name": "pauli_smooth"},
          "mark": {"type": "line", "color": "#8b1a1f", "strokeWidth": 2.4, "clip": true},
          "encoding": {
            "x": {"field": "epoch", "type": "quantitative"},
            "y": {"field": "pauli_z", "type": "quantitative"}
          }
        }
      ]
    }
  ],
  "resolve": {"scale": {"y": "independent"}}
}
